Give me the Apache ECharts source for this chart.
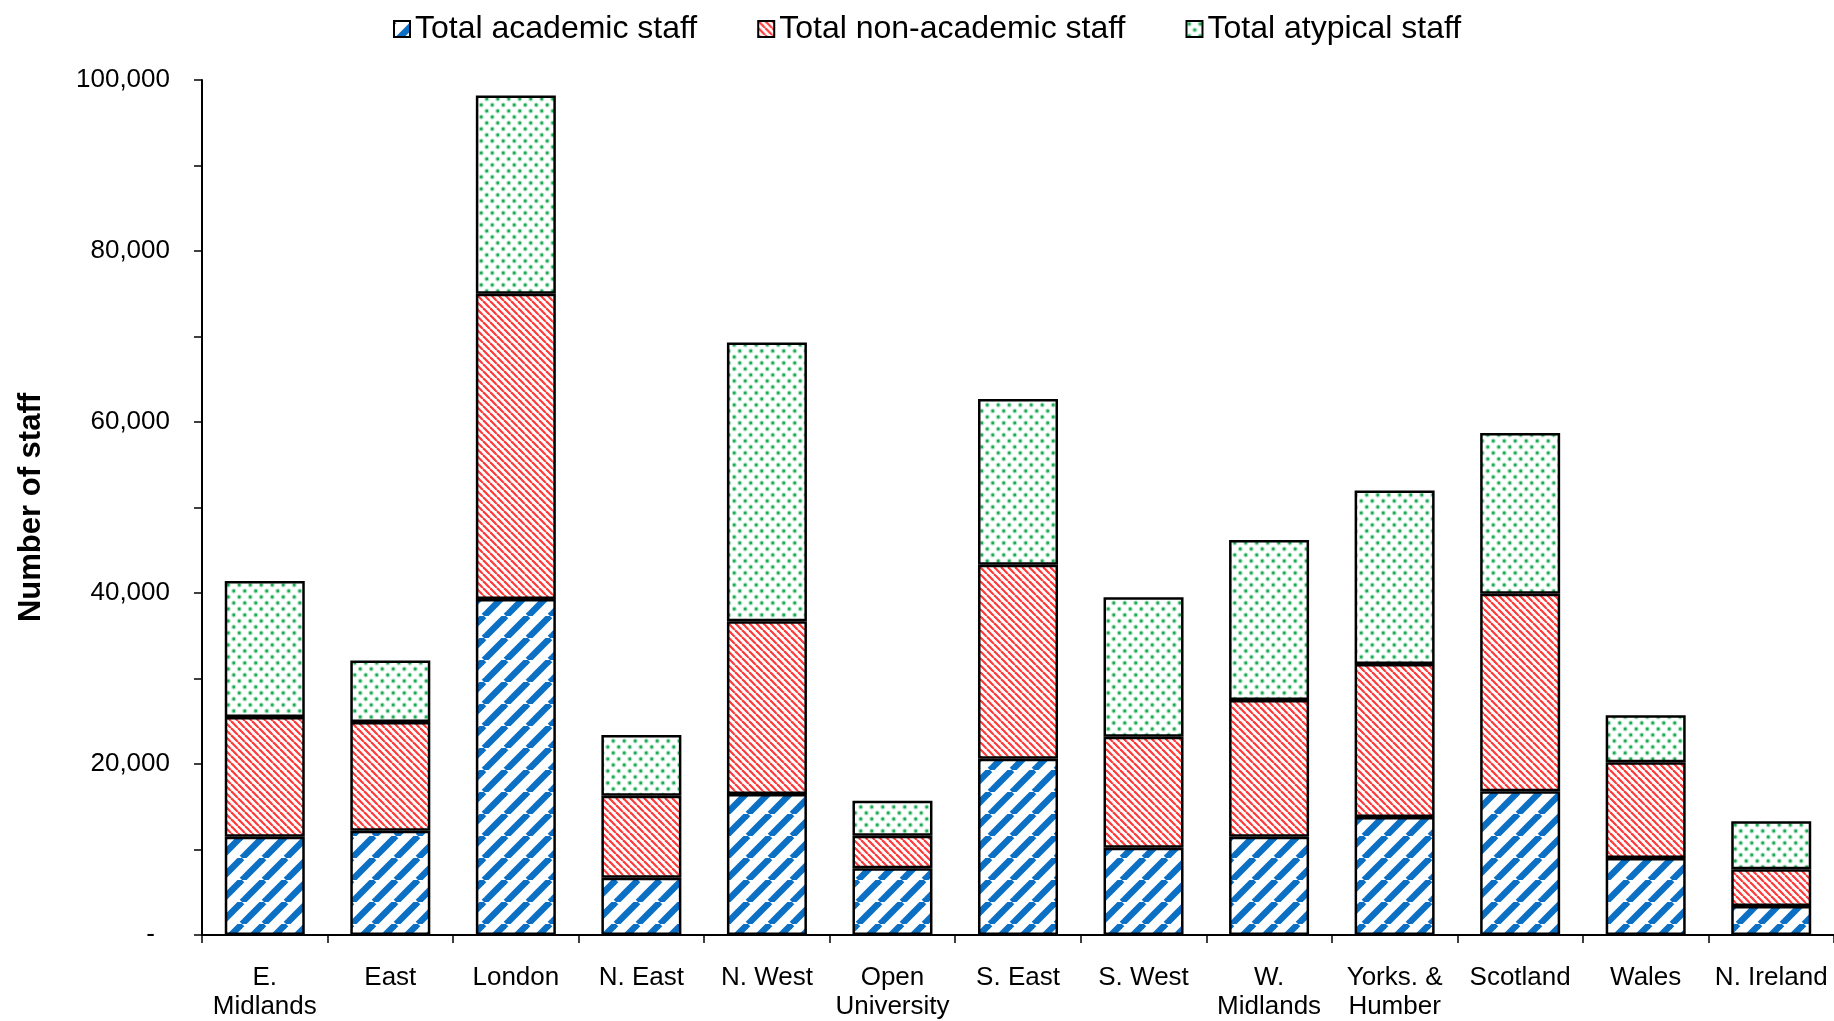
<!DOCTYPE html>
<html>
<head>
<meta charset="utf-8">
<script src="https://cdn.jsdelivr.net/npm/echarts@6/dist/echarts.min.js"></script>
<style>
html,body{margin:0;padding:0;background:#fff;}
#chart{width:1834px;height:1021px;}
</style>
</head>
<body>
<div id="chart"></div>
<script>
const categories = ['E.\nMidlands','East','London','N. East','N. West','Open\nUniversity','S. East','S. West','W.\nMidlands','Yorks. &\nHumber','Scotland','Wales','N. Ireland'];
const academic    = [11500, 12200, 39300, 6700, 16500, 7800, 20600, 10200, 11500, 13800, 16800, 9000, 3400];
const nonAcademic = [14000, 12700, 35700, 9600, 20200, 3800, 22700, 13000, 16000, 17900, 23100, 11200, 4300];
const atypical    = [15900,  7200, 23200, 7100, 32600, 4100, 19400, 16300, 18700, 20300, 18800,  5500, 5600];
const seriesNames = ['Total academic staff','Total non-academic staff','Total atypical staff'];
const yTickLabels = {0:'-',20000:'20,000',40000:'40,000',60000:'60,000',80000:'80,000',100000:'100,000'};

function makePattern(w, h, draw){
  const c = document.createElement('canvas');
  c.width = w; c.height = h;
  const ctx = c.getContext('2d');
  ctx.fillStyle = '#ffffff';
  ctx.fillRect(0,0,w,h);
  draw(ctx, w, h);
  return {image: c, repeat: 'repeat'};
}
const bluePattern = makePattern(22, 22, function(ctx, w, h){
  ctx.strokeStyle = '#0b6fc4';
  ctx.lineWidth = 6.5;
  for (let k = -1; k <= 1; k++){
    ctx.beginPath(); ctx.moveTo(k*w, h); ctx.lineTo(k*w + w, 0); ctx.stroke();
  }
});
const redPattern = makePattern(7, 7, function(ctx, w, h){
  ctx.strokeStyle = '#ff3838';
  ctx.lineWidth = 2.2;
  for (let k = -1; k <= 1; k++){
    ctx.beginPath(); ctx.moveTo(k*w, 0); ctx.lineTo(k*w + w, h); ctx.stroke();
  }
});
const greenPattern = makePattern(11, 12, function(ctx, w, h){
  const pts = [[2.75,3],[8.25,9]];
  pts.forEach(function(p){
    ctx.fillStyle = 'rgba(60,190,110,0.4)';
    ctx.beginPath(); ctx.arc(p[0], p[1], 2.5, 0, Math.PI*2); ctx.fill();
    ctx.fillStyle = '#1fa855';
    ctx.beginPath(); ctx.arc(p[0], p[1], 1.4, 0, Math.PI*2); ctx.fill();
  });
});

const FONT = 'Liberation Sans, Arial, sans-serif';
const chart = echarts.init(document.getElementById('chart'), null, {renderer:'canvas'});
const dataSets = [academic, nonAcademic, atypical];
const patterns = [bluePattern, redPattern, greenPattern];
chart.setOption({
  animation: false,
  backgroundColor: '#ffffff',
  legend: {
    left: 388, top: 8,
    itemWidth: 16, itemHeight: 16, itemGap: 60,
    icon: 'rect',
    itemStyle: {borderColor: '#000', borderWidth: 2},
    textStyle: {fontFamily: FONT, fontSize: 32, color: '#000'},
    data: seriesNames
  },
  grid: {left: 202, right: 0, top: 80, bottom: 85, containLabel: false},
  xAxis: {
    type: 'category',
    data: categories,
    axisLine: {lineStyle: {color: '#000', width: 2}},
    axisTick: {show: true, inside: false, length: 8, lineStyle: {color: '#000', width: 1.5}},
    axisLabel: {fontFamily: FONT, fontSize: 26, color: '#000', margin: 28, lineHeight: 29, interval: 0}
  },
  yAxis: {
    type: 'value', min: 0, max: 100000, interval: 10000,
    name: 'Number of staff', nameLocation: 'middle', nameGap: 155,
    nameTextStyle: {fontFamily: FONT, fontSize: 31, fontWeight: 'bold', color: '#000'},
    axisLine: {show: true, lineStyle: {color: '#000', width: 2}},
    axisTick: {show: true, inside: false, length: 8, lineStyle: {color: '#000', width: 1.5}},
    splitLine: {show: false},
    axisLabel: {
      fontFamily: FONT, fontSize: 26, color: '#000', margin: 32,
      formatter: function(v){
        if (!(v in yTickLabels)) return '';
        return v === 0 ? '{d|-}' : yTickLabels[v];
      },
      rich: {d: {fontFamily: FONT, fontSize: 26, color: '#000', padding: [0, 15, 0, 0]}}
    }
  },
  series: seriesNames.map(function(name, i){
    return {
      name: name, type: 'bar', stack: 'total', barWidth: 80,
      data: dataSets[i],
      itemStyle: {color: patterns[i], borderColor: '#000', borderWidth: 2.5},
      emphasis: {disabled: true}
    };
  })
});
</script>
</body>
</html>
